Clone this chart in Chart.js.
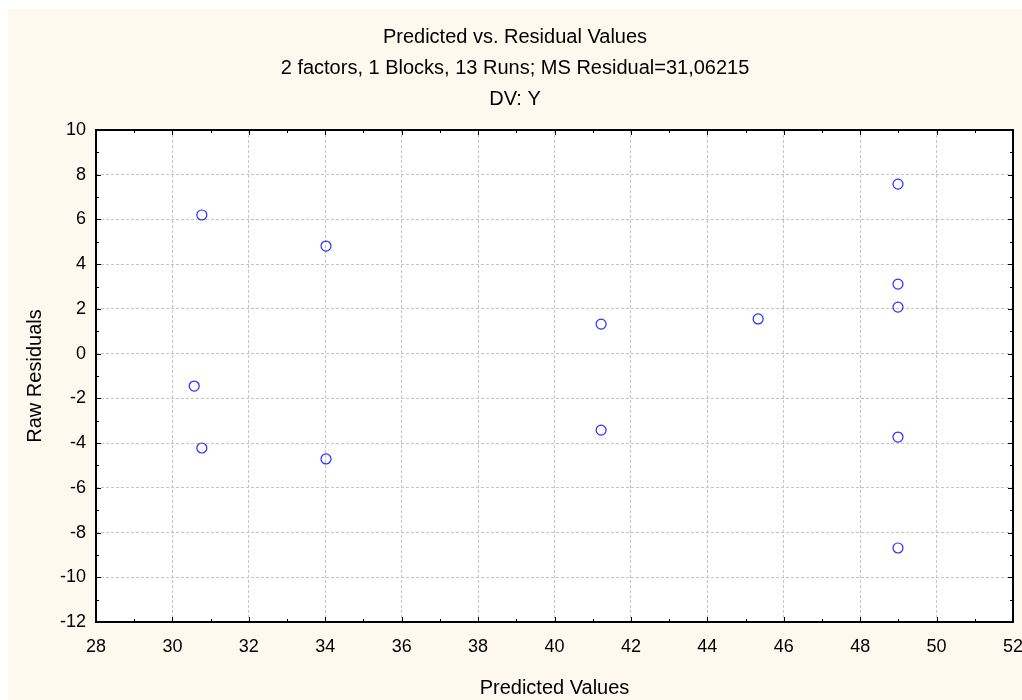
<!DOCTYPE html>
<html>
<head>
<meta charset="utf-8">
<script src="https://cdn.jsdelivr.net/npm/chart.js@4.4.1/dist/chart.umd.min.js"></script>
<style>
  html, body { margin: 0; padding: 0; background: #ffffff; overflow: hidden; }
  #wrap { position: absolute; left: 8px; top: 9px; width: 1014px; height: 691px; background: #fdf9ee; }
</style>
</head>
<body>
<div id="wrap"><canvas id="chart"></canvas></div>
<script>
// values
const predicted = [30.77, 34.02, 30.57, 30.77, 34.02, 41.22, 41.22, 45.33, 48.99, 48.99, 48.99, 48.99, 48.99];
const residuals = [6.20, 4.81, -1.45, -4.22, -4.71, 1.32, -3.42, 1.55, 7.58, 3.11, 2.08, -3.73, -8.69];

const titleLines = ['Predicted vs. Residual Values', '2 factors, 1 Blocks, 13 Runs; MS Residual=31,06215', 'DV: Y'];
const xLabel = 'Predicted Values';
const yLabel = 'Raw Residuals';
const xMin = 28, xMax = 52, xStep = 2;
const yMin = -12, yMax = 10, yStep = 2;

const fontFamily = '"Liberation Sans", Arial, sans-serif';

// white plot area, frame and the small inward tick marks on all four sides
const framePlugin = {
  id: 'frame',
  beforeDraw(chart) {
    const a = chart.chartArea, ctx = chart.ctx;
    ctx.save();
    ctx.fillStyle = '#ffffff';
    ctx.fillRect(a.left, a.top, a.right - a.left, a.bottom - a.top);
    ctx.restore();
  },
  afterDatasetsDraw(chart) {
    const a = chart.chartArea, ctx = chart.ctx;
    const xs = chart.scales.x, ys = chart.scales.y;
    ctx.save();
    ctx.strokeStyle = '#000000';
    ctx.lineWidth = 1;
    ctx.beginPath();
    for (let v = xMin + 1; v < xMax; v++) {
      const px = Math.round(xs.getPixelForValue(v)) + 0.5;
      const len = v % xStep === 0 ? 5 : 3;
      ctx.moveTo(px, a.bottom); ctx.lineTo(px, a.bottom - len);
      ctx.moveTo(px, a.top); ctx.lineTo(px, a.top + len);
    }
    for (let v = yMin + 1; v < yMax; v++) {
      const py = Math.round(ys.getPixelForValue(v)) + 0.5;
      const len = v % yStep === 0 ? 5 : 3;
      ctx.moveTo(a.left, py); ctx.lineTo(a.left + len, py);
      ctx.moveTo(a.right, py); ctx.lineTo(a.right - len, py);
    }
    ctx.stroke();
    ctx.lineWidth = 2;
    ctx.strokeRect(a.left, a.top, a.right - a.left, a.bottom - a.top);
    ctx.restore();
  }
};

const ctx = document.getElementById('chart').getContext('2d');
new Chart(ctx, {
  type: 'scatter',
  data: {
    datasets: [{
      data: predicted.map((x, i) => ({ x: x, y: residuals[i] })),
      pointStyle: 'circle',
      pointRadius: 5,
      pointHoverRadius: 5,
      borderWidth: 1.2,
      borderColor: '#2a2aff',
      backgroundColor: 'rgba(0,0,0,0)'
    }]
  },
  options: {
    responsive: true,
    maintainAspectRatio: false,
    animation: false,
    events: [],
    layout: { padding: 0 },
    plugins: {
      legend: { display: false },
      tooltip: { enabled: false },
      title: {
        display: true,
        text: titleLines,
        color: '#000000',
        font: { family: fontFamily, size: 20, weight: 'normal', lineHeight: 1.55 },
        padding: { top: 13, bottom: 15 }
      }
    },
    scales: {
      x: {
        type: 'linear',
        min: xMin, max: xMax,
        afterFit(scale) { scale.height = 78; scale.paddingRight = 9; },
        ticks: {
          stepSize: xStep,
          color: '#000000',
          padding: 14,
          maxRotation: 0,
          font: { family: fontFamily, size: 18 }
        },
        grid: {
          color: ctx => (ctx.tick && (ctx.tick.value === xMin || ctx.tick.value === xMax)) ? 'rgba(0,0,0,0)' : '#c4c4c4',
          drawTicks: false,
          lineWidth: 1
        },
        border: { display: false, dash: [3, 2] },
        title: {
          display: true,
          text: xLabel,
          color: '#000000',
          font: { family: fontFamily, size: 20 },
          padding: { top: 0, bottom: 0 }
        }
      },
      y: {
        type: 'linear',
        min: yMin, max: yMax,
        afterFit(scale) { scale.width = 88; },
        ticks: {
          stepSize: yStep,
          color: '#000000',
          padding: 10,
          font: { family: fontFamily, size: 18 }
        },
        grid: {
          color: ctx => (ctx.tick && (ctx.tick.value === yMin || ctx.tick.value === yMax)) ? 'rgba(0,0,0,0)' : '#c4c4c4',
          drawTicks: false,
          lineWidth: 1
        },
        border: { display: false, dash: [3, 2] },
        title: {
          display: true,
          text: yLabel,
          color: '#000000',
          font: { family: fontFamily, size: 20 },
          padding: { top: 15, bottom: 0 }
        }
      }
    }
  },
  plugins: [framePlugin]
});
</script>
</body>
</html>
